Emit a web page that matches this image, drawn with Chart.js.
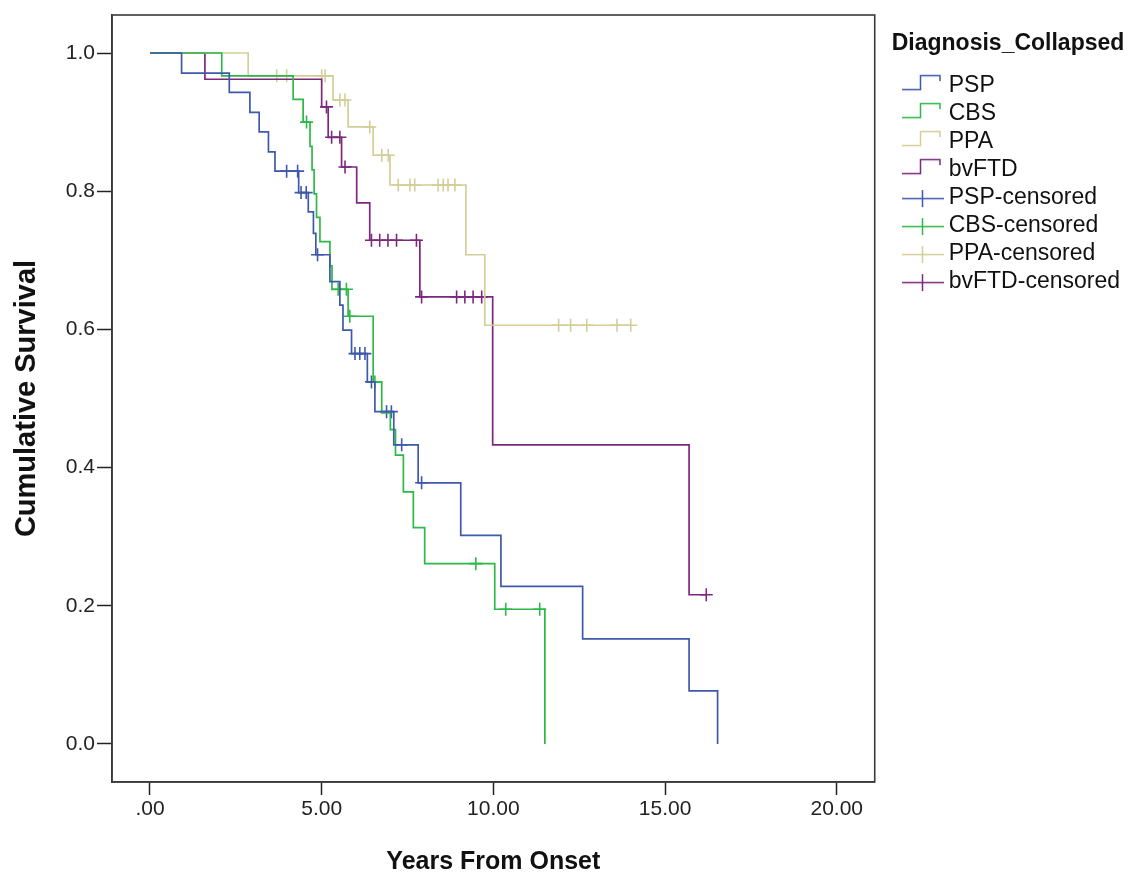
<!DOCTYPE html>
<html lang="en">
<head>
  <meta charset="UTF-8">
  <title>Survival by diagnosis</title>
  <style>
    html, body { margin: 0; padding: 0; background: #fff; }
  </style>
</head>
<body>
  <canvas id="myChart" width="1140" height="878"></canvas>
  <script src="https://cdn.jsdelivr.net/npm/chart.js@4.4.1/dist/chart.umd.min.js"></script>
  <script>
    // Kaplan-Meier steps: time of each drop and the survival after it
    const pspTime = [0, 0.92, 2.31, 2.91, 3.18, 3.45, 3.64, 4.33, 4.61, 4.76, 4.83, 5.24, 5.53, 5.62, 5.87, 6.33, 6.55, 7.10, 7.81, 9.05, 10.22, 12.60, 15.70, 16.53];
    const pspSurv = [1, 0.971, 0.943, 0.914, 0.886, 0.857, 0.829, 0.798, 0.770, 0.739, 0.708, 0.669, 0.635, 0.599, 0.565, 0.524, 0.481, 0.433, 0.378, 0.302, 0.228, 0.152, 0.077, 0];
    const cbsTime = [0, 2.09, 4.17, 4.46, 4.66, 4.72, 4.78, 4.85, 4.95, 5.24, 5.30, 5.77, 6.50, 6.75, 7.00, 7.15, 7.38, 7.67, 8.00, 10.04, 11.50];
    const cbsSurv = [1, 0.967, 0.933, 0.900, 0.865, 0.831, 0.796, 0.762, 0.727, 0.692, 0.658, 0.619, 0.524, 0.479, 0.455, 0.418, 0.365, 0.313, 0.261, 0.195, 0];
    const ppaTime = [0, 2.86, 5.33, 5.77, 6.50, 6.99, 9.20, 9.75, 14.00];
    const ppaSurv = [1, 0.967, 0.932, 0.893, 0.852, 0.809, 0.708, 0.606, 0.606];
    const bvTime = [0, 1.60, 5.00, 5.19, 5.58, 6.02, 6.40, 7.86, 9.98, 15.70, 16.20];
    const bvSurv = [1, 0.962, 0.922, 0.878, 0.835, 0.783, 0.729, 0.647, 0.433, 0.216, 0.216];

    // censored cases (the + marks)
    const pspCensTime = [3.98, 4.30, 4.40, 4.55, 4.88, 5.97, 6.11, 6.26, 6.45, 6.89, 7.03, 7.33, 7.91];
    const pspCensSurv = [0.829, 0.829, 0.798, 0.798, 0.708, 0.565, 0.565, 0.565, 0.524, 0.481, 0.481, 0.433, 0.378];
    const cbsCensTime = [4.56, 5.48, 5.72, 5.82, 6.55, 9.49, 10.36, 11.35];
    const cbsCensSurv = [0.900, 0.658, 0.658, 0.619, 0.524, 0.261, 0.195, 0.195];
    const ppaCensTime = [3.69, 3.98, 5.00, 5.10, 5.53, 5.68, 6.40, 6.75, 6.94, 7.23, 7.57, 7.71, 8.39, 8.54, 8.68, 8.88, 11.90, 12.25, 12.72, 13.60, 14.00];
    const ppaCensSurv = [0.967, 0.967, 0.967, 0.967, 0.932, 0.932, 0.893, 0.852, 0.852, 0.809, 0.809, 0.809, 0.809, 0.809, 0.809, 0.809, 0.606, 0.606, 0.606, 0.606, 0.606];
    const bvCensTime = [5.14, 5.29, 5.53, 5.68, 6.45, 6.69, 6.93, 7.18, 7.76, 7.91, 8.93, 9.17, 9.41, 9.66, 16.20];
    const bvCensSurv = [0.922, 0.878, 0.878, 0.835, 0.729, 0.729, 0.729, 0.729, 0.729, 0.647, 0.647, 0.647, 0.647, 0.647, 0.216];

    const groups = ['PSP', 'CBS', 'PPA', 'bvFTD'];
    const groupColors = ['#3E58AC', '#2EB848', '#D3CE97', '#7C287D'];

    const xTickValues = [0, 5, 10, 15, 20];
    const xTickLabels = ['.00', '5.00', '10.00', '15.00', '20.00'];
    const yTickValues = [0, 0.2, 0.4, 0.6, 0.8, 1.0];
    const yTickLabels = ['0.0', '0.2', '0.4', '0.6', '0.8', '1.0'];

    function toPoints(xs, ys) {
      return xs.map((x, i) => ({ x: x, y: ys[i] }));
    }

    // little legend pictures: a step for the curves, a cross for the censored marks
    function legendIcon(color, kind) {
      const c = document.createElement('canvas');
      c.width = 54;
      c.height = 28;
      const g = c.getContext('2d');
      g.strokeStyle = color;
      g.lineWidth = 1.5;
      g.beginPath();
      if (kind === 'step') {
        g.moveTo(12, 17.5);
        g.lineTo(30.5, 17.5);
        g.lineTo(30.5, 3.5);
        g.lineTo(50, 3.5);
        g.lineTo(50, 9);
      } else {
        g.moveTo(12, 14.5);
        g.lineTo(54, 14.5);
        g.moveTo(32.5, 6);
        g.lineTo(32.5, 23);
      }
      g.stroke();
      return c;
    }

    const curves = [
      toPoints(pspTime, pspSurv), toPoints(cbsTime, cbsSurv),
      toPoints(ppaTime, ppaSurv), toPoints(bvTime, bvSurv)
    ];
    const censored = [
      toPoints(pspCensTime, pspCensSurv), toPoints(cbsCensTime, cbsCensSurv),
      toPoints(ppaCensTime, ppaCensSurv), toPoints(bvCensTime, bvCensSurv)
    ];

    const datasets = [];
    groups.forEach((name, i) => {
      datasets.push({
        label: name,
        data: curves[i],
        showLine: true,
        stepped: 'before',
        borderColor: groupColors[i],
        borderWidth: 1.7,
        pointRadius: 0,
        fill: false
      });
    });
    groups.forEach((name, i) => {
      datasets.push({
        label: name + '-censored',
        data: censored[i],
        showLine: false,
        pointStyle: 'cross',
        pointRadius: 6.5,
        pointBorderWidth: 1.6,
        borderColor: groupColors[i],
        backgroundColor: groupColors[i]
      });
    });

    const framePlugin = {
      id: 'frame',
      afterDatasetsDraw(chart) {
        const a = chart.chartArea;
        const ctx = chart.ctx;
        ctx.save();
        ctx.strokeStyle = '#3a3a3a';
        ctx.lineWidth = 1.6;
        ctx.strokeRect(a.left, a.top, a.right - a.left, a.bottom - a.top);
        ctx.restore();
      }
    };

    const tickFont = { family: 'Liberation Sans', size: 21 };

    new Chart(document.getElementById('myChart'), {
      type: 'scatter',
      data: { datasets: datasets },
      plugins: [framePlugin],
      options: {
        responsive: false,
        animation: false,
        devicePixelRatio: 1,
        layout: { padding: { top: 15, right: 10, bottom: 0, left: 0 } },
        scales: {
          x: {
            type: 'linear',
            min: -1.106,
            max: 21.106,
            afterBuildTicks: s => { s.ticks = xTickValues.map(v => ({ value: v })); },
            afterFit: s => { s.height = 96; },
            ticks: {
              callback: (v) => xTickLabels[xTickValues.indexOf(v)],
              font: tickFont,
              color: '#222',
              padding: 2,
              maxRotation: 0
            },
            grid: { drawOnChartArea: false, drawTicks: true, tickLength: 13, tickColor: '#222', tickWidth: 1.5 },
            border: { display: true, color: '#3a3a3a', width: 1.6 },
            title: { display: true, text: 'Years From Onset', font: { family: 'Liberation Sans', size: 25, weight: 'bold' }, color: '#111', padding: { top: 0, bottom: 1 } }
          },
          y: {
            type: 'linear',
            min: -0.055,
            max: 1.055,
            afterBuildTicks: s => { s.ticks = yTickValues.map(v => ({ value: v })); },
            afterFit: s => { s.width = 112; },
            ticks: {
              callback: (v) => yTickLabels[yTickValues.indexOf(v)],
              font: tickFont,
              color: '#222',
              padding: 2
            },
            grid: { drawOnChartArea: false, drawTicks: true, tickLength: 15, tickColor: '#222', tickWidth: 1.5 },
            border: { display: true, color: '#3a3a3a', width: 1.6 },
            title: { display: true, text: 'Cumulative Survival', font: { family: 'Liberation Sans', size: 29, weight: 'bold' }, color: '#111', padding: { top: 10, bottom: 0 } }
          },
          gap: {
            type: 'linear',
            position: 'right',
            display: true,
            afterFit: s => { s.width = 17; },
            ticks: { display: false },
            grid: { display: false },
            border: { display: false }
          }
        },
        plugins: {
          tooltip: { enabled: false },
          legend: {
            position: 'right',
            align: 'start',
            maxWidth: 300,
            title: {
              display: true,
              text: 'Diagnosis_Collapsed',
              position: 'start',
              color: '#111',
              font: { family: 'Liberation Sans', size: 23, weight: 'bold' },
              padding: { top: 17, bottom: 10 }
            },
            labels: {
              usePointStyle: true,
              pointStyleWidth: 40.5,
              padding: 5,
              color: '#222',
              font: { family: 'Liberation Sans', size: 23 },
              generateLabels: chart => chart.data.datasets.map((ds, i) => ({
                text: ds.label,
                pointStyle: legendIcon(ds.borderColor, i < 4 ? 'step' : 'cross'),
                fillStyle: ds.borderColor,
                strokeStyle: ds.borderColor,
                lineWidth: 0,
                hidden: false,
                datasetIndex: i
              }))
            }
          }
        }
      }
    });
  </script>
</body>
</html>
